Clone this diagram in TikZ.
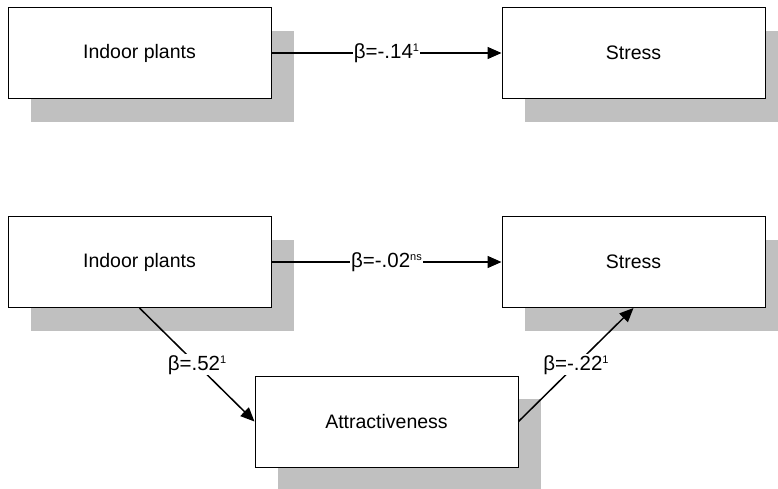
\documentclass[tikz,border=0pt]{standalone}
\usepackage{fontspec}
\setmainfont{Liberation Sans}
\usetikzlibrary{shadows,arrows.meta}

\definecolor{shadowgray}{RGB}{192,192,192}
\newcommand*{\supscr}[1]{\raisebox{0.6ex}{\fontsize{11}{11}\selectfont #1}}

\begin{document}
\begin{tikzpicture}
[
	x=1pt,
	y=-1pt,
	varbox/.style={draw,line width=1pt,fill=white,minimum width=263pt,minimum height=91pt,
	  font=\fontsize{19.5}{23}\selectfont,
	  drop shadow={shadow xshift=23pt,shadow yshift=-23pt,opacity=1,fill=shadowgray}},
	effect/.style={line width=1.5pt,-{Triangle[length=14pt,width=12pt]}},
	coef/.style={fill=white,inner sep=1pt,font=\fontsize{20.5}{24}\selectfont}
]

	\useasboundingbox (0,0) rectangle (778,488);

	% total effect
	\node[varbox] at (139.5,53) (plants1) {Indoor plants};
	\node[varbox] at (633.5,53) (stress1) {Stress};
	\draw[effect] (plants1.east) -- (stress1.west)
	  node[coef,midway] {β=-.14\supscr{1}};

	% mediated model
	\node[varbox] at (139.5,262) (plants2) {Indoor plants};
	\node[varbox] at (633.5,262) (stress2) {Stress};
	\node[varbox] at (386.5,421.5) (attract) {Attractiveness};

	\draw[effect] (plants2.east) -- (stress2.west)
	  node[coef,midway] {β=-.02\supscr{ns}};
	\draw[effect] (plants2.south) -- (attract.west)
	  node[coef,midway] {β=.52\supscr{1}};
	\draw[effect] (attract.east) -- (stress2.south)
	  node[coef,midway] {β=-.22\supscr{1}};

\end{tikzpicture}
\end{document}
